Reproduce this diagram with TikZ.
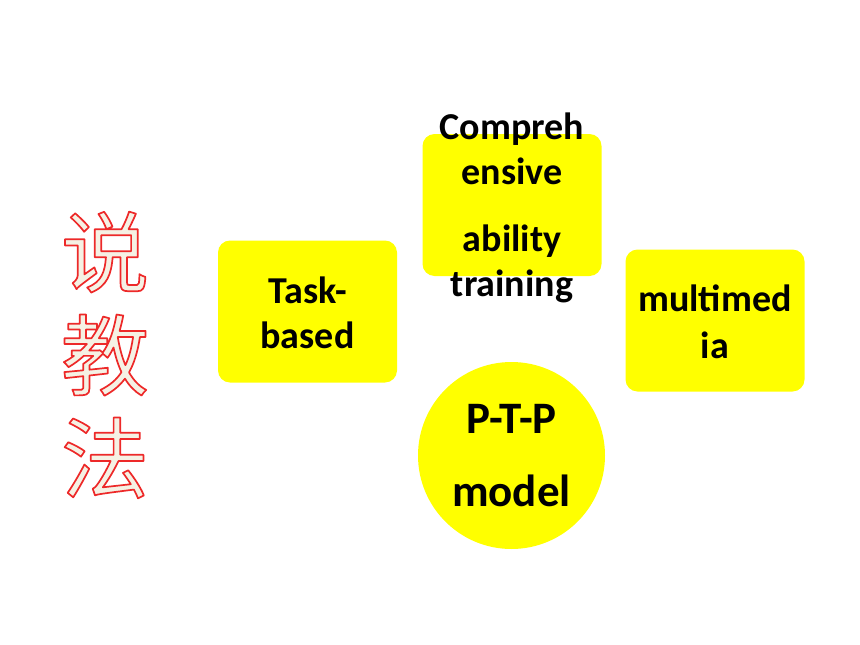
\documentclass[tikz,border=0pt]{standalone}
\usepackage{fontspec}
\setmainfont{Carlito}
\newfontfamily\cjk{Noto Sans CJK SC}
\usetikzlibrary{positioning,shapes.geometric,calc}
\definecolor{boxyellow}{HTML}{FFFF00}
\definecolor{titlefill}{HTML}{F5F1E4}
% outlined glyphs: fill and stroke (text render mode 2)
\newcommand\outlineon{\special{pdf:literal direct 2 Tr 1.7 w 1 J 1 j 0.93 0.16 0.16 RG}}
\newcommand\outlineoff{\special{pdf:literal direct 0 Tr}}

\begin{document}
\begin{tikzpicture}[
    x=1pt, y=-1pt,
    yellowbox/.style={rectangle, rounded corners=12pt, fill=boxyellow, draw=none,
                      minimum width=179pt, minimum height=142pt},
    yellowdisc/.style={circle, fill=boxyellow, draw=none, minimum size=187pt},
    boxtext/.style={align=center, inner sep=0pt,
                    font=\bfseries\fontsize{38}{45}\selectfont},
    disctext/.style={boxtext, font=\bfseries\fontsize{45}{54}\selectfont},
    titletext/.style={align=center, inner sep=0pt,
                      font=\cjk\fontsize{88}{103}\selectfont},
    ]
    \useasboundingbox (0,0) rectangle (860,645);

    %Nodes
    \node[yellowbox]  (compre) at (512,205) {};
    \node[yellowbox]  (task)   at (307.5,311.5) {};
    \node[yellowbox]  (media)  at (715,320.5) {};
    \node[yellowdisc] (ptp)    at (511.5,455.5) {};

    % Text labels
    \node[boxtext]  (comprelabel) at ([yshift=-3pt]compre.center) {Compreh\\ensive\\[22pt]ability\\training};
    \node[boxtext]  (tasklabel)   at ([yshift=-1pt]task.center)   {Task-\\based};
    \node[boxtext]  (medialabel)  at ([yshift=-1pt]media.center)  {multimed\\[2pt]ia};
    \node[disctext] (ptplabel)    at (ptp.center)                 {P-T-P\\[19pt]model};

    % Title with red outline
    \node[titletext, text=titlefill] (title) at (105,355) {\outlineon{}说\\\outlineon{}教\\\outlineon{}法\outlineoff{}};
\end{tikzpicture}
\end{document}
